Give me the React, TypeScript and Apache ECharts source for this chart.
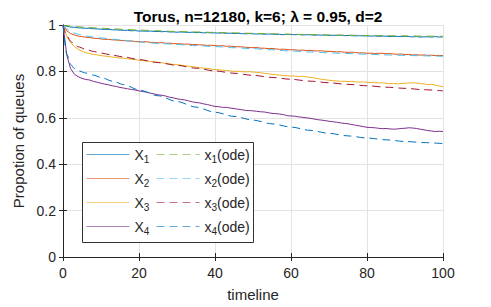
import React, { useEffect, useRef } from "react";
import * as echarts from "echarts";

// ---------- data ----------
const xTicks = [0, 20, 40, 60, 80, 100];
const yTicks = [0, 0.2, 0.4, 0.6, 0.8, 1];

const simT = Array.from({ length: 101 }, (_, i) => i);

const X1 = [
  1.000, 0.994, 0.991, 0.990, 0.988, 0.987, 0.986, 0.986, 0.984, 0.983, 0.982,
  0.981, 0.981, 0.979, 0.979, 0.978, 0.977, 0.977, 0.975, 0.976, 0.974,
  0.974, 0.973, 0.974, 0.972, 0.972, 0.971, 0.972, 0.970, 0.970, 0.969,
  0.970, 0.969, 0.968, 0.969, 0.967, 0.968, 0.966, 0.967, 0.966, 0.966,
  0.965, 0.966, 0.964, 0.965, 0.963, 0.964, 0.963, 0.962, 0.963, 0.962,
  0.961, 0.962, 0.960, 0.961, 0.961, 0.959, 0.960, 0.958, 0.960, 0.959,
  0.958, 0.959, 0.957, 0.958, 0.958, 0.956, 0.957, 0.956, 0.957, 0.955,
  0.956, 0.955, 0.956, 0.954, 0.955, 0.954, 0.953, 0.954, 0.953, 0.953,
  0.952, 0.953, 0.951, 0.952, 0.952, 0.950, 0.951, 0.951, 0.950, 0.951,
  0.950, 0.949, 0.950, 0.948, 0.949, 0.949, 0.948, 0.950, 0.948, 0.949,
];

const X2 = [
  1.000, 0.975, 0.963, 0.957, 0.952, 0.950, 0.947, 0.946, 0.943, 0.942, 0.940,
  0.938, 0.938, 0.936, 0.935, 0.934, 0.933, 0.931, 0.931, 0.929, 0.928,
  0.927, 0.928, 0.925, 0.925, 0.923, 0.924, 0.921, 0.922, 0.920, 0.919,
  0.919, 0.917, 0.918, 0.915, 0.916, 0.914, 0.914, 0.912, 0.913, 0.911,
  0.910, 0.911, 0.908, 0.909, 0.907, 0.906, 0.906, 0.904, 0.903, 0.902,
  0.903, 0.900, 0.900, 0.898, 0.899, 0.897, 0.895, 0.896, 0.894, 0.893,
  0.893, 0.891, 0.892, 0.890, 0.891, 0.889, 0.888, 0.889, 0.887, 0.886,
  0.886, 0.884, 0.885, 0.883, 0.882, 0.883, 0.881, 0.880, 0.880, 0.878,
  0.879, 0.877, 0.878, 0.878, 0.876, 0.877, 0.875, 0.874, 0.875, 0.873,
  0.873, 0.871, 0.872, 0.870, 0.871, 0.869, 0.870, 0.868, 0.869, 0.868,
];

const X3 = [
  1.000, 0.950, 0.925, 0.907, 0.895, 0.887, 0.880, 0.877, 0.873, 0.871, 0.868,
  0.866, 0.864, 0.862, 0.860, 0.857, 0.857, 0.854, 0.852, 0.851, 0.848,
  0.846, 0.845, 0.843, 0.841, 0.839, 0.837, 0.835, 0.833, 0.830, 0.829,
  0.827, 0.825, 0.822, 0.821, 0.818, 0.816, 0.814, 0.813, 0.810, 0.808,
  0.807, 0.805, 0.804, 0.802, 0.800, 0.801, 0.799, 0.798, 0.799, 0.797,
  0.796, 0.794, 0.792, 0.790, 0.787, 0.786, 0.784, 0.782, 0.781, 0.780,
  0.780, 0.778, 0.779, 0.777, 0.774, 0.772, 0.769, 0.766, 0.764, 0.762,
  0.760, 0.759, 0.757, 0.758, 0.756, 0.757, 0.755, 0.754, 0.755, 0.753,
  0.752, 0.753, 0.750, 0.751, 0.749, 0.747, 0.748, 0.746, 0.748, 0.749,
  0.750, 0.751, 0.750, 0.748, 0.746, 0.743, 0.744, 0.741, 0.737, 0.734,
];

const X4 = [
  1.000, 0.870, 0.812, 0.788, 0.777, 0.770, 0.765, 0.763, 0.757, 0.753, 0.749,
  0.745, 0.742, 0.738, 0.735, 0.731, 0.728, 0.725, 0.722, 0.720, 0.716,
  0.713, 0.711, 0.706, 0.703, 0.699, 0.697, 0.694, 0.689, 0.686, 0.682,
  0.679, 0.677, 0.673, 0.669, 0.666, 0.664, 0.660, 0.657, 0.653, 0.649,
  0.648, 0.645, 0.645, 0.642, 0.640, 0.637, 0.635, 0.632, 0.631, 0.630,
  0.628, 0.626, 0.625, 0.622, 0.619, 0.618, 0.616, 0.614, 0.609, 0.608,
  0.607, 0.604, 0.602, 0.600, 0.598, 0.595, 0.592, 0.590, 0.588, 0.585,
  0.583, 0.581, 0.578, 0.576, 0.574, 0.571, 0.568, 0.565, 0.562, 0.559,
  0.558, 0.557, 0.555, 0.553, 0.554, 0.552, 0.551, 0.552, 0.554, 0.555,
  0.557, 0.556, 0.554, 0.551, 0.548, 0.545, 0.543, 0.541, 0.542, 0.541,
];

const odeT = [0, 1, 2, 3, 4, 6, 8, 10, 13, 16, 20, 25, 30, 35, 40, 45, 50, 55, 60, 65, 70, 75, 80, 85, 90, 95, 100];

const ode1 = [
  1, 0.997, 0.995, 0.993, 0.992, 0.990, 0.988, 0.986, 0.984, 0.981, 0.978,
  0.975, 0.972, 0.970, 0.968, 0.966, 0.964, 0.962, 0.960, 0.959, 0.957, 0.956, 0.955, 0.954, 0.953, 0.952, 0.951,
];
const ode2 = [
  1, 0.983, 0.972, 0.965, 0.960, 0.953, 0.948, 0.944, 0.939, 0.934, 0.927,
  0.921, 0.916, 0.911, 0.907, 0.902, 0.898, 0.893, 0.888, 0.884, 0.880, 0.877, 0.874, 0.871, 0.869, 0.867, 0.865,
];
const ode3 = [
  1, 0.955, 0.930, 0.915, 0.906, 0.895, 0.886, 0.879, 0.870, 0.862, 0.851,
  0.838, 0.826, 0.814, 0.802, 0.792, 0.783, 0.774, 0.766, 0.758, 0.751, 0.744, 0.738, 0.732, 0.727, 0.721, 0.716,
];
const ode4 = [
  1, 0.875, 0.830, 0.812, 0.803, 0.793, 0.784, 0.774, 0.758, 0.743, 0.720,
  0.695, 0.670, 0.646, 0.624, 0.606, 0.590, 0.574, 0.560, 0.546, 0.533, 0.522, 0.513, 0.505, 0.498, 0.493, 0.489,
];

const simNames = ["X_1", "X_2", "X_3", "X_4"];
const odeNames = ["x_1(ode)", "x_2(ode)", "x_3(ode)", "x_4(ode)"];
const simColors = ["#0072BD", "#D95319", "#EDB120", "#7E2F8E"];
const odeColors = ["#77AC30", "#4DBEEE", "#A2142F", "#0072BD"];

const FONT = "'Liberation Sans', Arial, Helvetica, sans-serif";
const AX = "#262626";

function pairs(t: number[], v: number[]) {
  return t.map((x, i) => [x, v[i]]);
}

function legendFmt(name: string) {
  const m = name.match(/^([A-Za-z])_(\d)(.*)$/);
  if (!m) return name;
  return `{a|${m[1]}}{s|${m[2]}}` + (m[3] ? `{a|${m[3]}}` : "");
}

export default function App() {
  const ref = useRef<HTMLDivElement>(null);
  useEffect(() => {
    if (!ref.current) return;
    const chart = echarts.init(ref.current, null, { renderer: "svg" });
    const simSeries = [X1, X2, X3, X4];
    const odeSeries = [ode1, ode2, ode3, ode4];
    const series: any[] = [];
    for (let i = 0; i < 4; i++) {
      series.push({
        name: simNames[i],
        type: "line",
        data: pairs(simT, simSeries[i]),
        showSymbol: false,
        symbol: "none",
        lineStyle: { color: simColors[i], width: 1 },
        itemStyle: { color: simColors[i] },
        z: 2,
      });
      series.push({
        name: odeNames[i],
        type: "line",
        data: pairs(odeT, odeSeries[i]),
        showSymbol: false,
        symbol: "none",
        smooth: 0.3,
        smoothMonotone: "x",
        lineStyle: { color: odeColors[i], width: 1, type: [8, 5] },
        itemStyle: { color: odeColors[i] },
        z: 3,
      });
    }
    const rich = {
      a: { fontSize: 14, lineHeight: 20, color: AX, fontFamily: FONT },
      s: { fontSize: 10, lineHeight: 20, color: AX, fontFamily: FONT, padding: [9, 0, 0, 0] },
    };
    const mkLegend = (left: number, data: string[]) => ({
      orient: "vertical",
      left,
      top: 145,
      padding: 0,
      itemWidth: 43,
      itemHeight: 14,
      itemGap: 5,
      formatter: legendFmt,
      itemStyle: { opacity: 0 },
      lineStyle: { opacity: 0.6, width: 1 },
      textStyle: { rich, fontFamily: FONT, fontSize: 14, color: AX },
      z: 10,
      data,
    });
    chart.setOption({
      animation: false,
      backgroundColor: "#ffffff",
      textStyle: { fontFamily: FONT },
      title: {
        text: "Torus, n=12180, k=6; λ = 0.95, d=2",
        left: 253,
        top: 3,
        textAlign: "center",
        textStyle: { fontSize: 15.5, fontWeight: "bold", color: "#000", fontFamily: FONT },
      },
      grid: { left: 63, top: 25, width: 380, height: 235, containLabel: false },
      legend: [mkLegend(86, simNames), mkLegend(156, odeNames)],
      graphic: [
        {
          type: "rect",
          shape: { x: 82.5, y: 142.5, width: 171, height: 100 },
          style: { fill: "#ffffff", stroke: "#333333", lineWidth: 1 },
          z: 5,
          silent: true,
        },
      ],
      xAxis: [
        {
          type: "value",
          min: xTicks[0],
          max: xTicks[xTicks.length - 1],
          interval: xTicks[1] - xTicks[0],
          name: "timeline",
          nameLocation: "middle",
          nameGap: 30,
          nameTextStyle: { fontSize: 15, color: AX, fontFamily: FONT },
          axisLine: { show: true, lineStyle: { color: AX, width: 1 } },
          axisTick: { show: true, inside: true, length: 4, lineStyle: { color: AX } },
          axisLabel: { fontSize: 14, color: AX, margin: 9, fontFamily: FONT },
          splitLine: { show: true, lineStyle: { color: "#e3e3e3", width: 1 } },
        },
        {
          type: "value",
          position: "top",
          min: xTicks[0],
          max: xTicks[xTicks.length - 1],
          interval: xTicks[1] - xTicks[0],
          axisLine: { show: true, lineStyle: { color: AX, width: 1 } },
          axisTick: { show: true, inside: true, length: 4, lineStyle: { color: AX } },
          axisLabel: { show: false },
          splitLine: { show: false },
        },
      ],
      yAxis: [
        {
          type: "value",
          min: yTicks[0],
          max: yTicks[yTicks.length - 1],
          interval: yTicks[1] - yTicks[0],
          name: "Propotion of queues",
          nameLocation: "middle",
          nameGap: 25,
          nameTextStyle: { fontSize: 15, color: AX, fontFamily: FONT },
          axisLine: { show: true, lineStyle: { color: AX, width: 1 } },
          axisTick: { show: true, inside: true, length: 4, lineStyle: { color: AX } },
          axisLabel: { fontSize: 14, color: AX, margin: 7, fontFamily: FONT },
          splitLine: { show: true, lineStyle: { color: "#e3e3e3", width: 1 } },
        },
        {
          type: "value",
          position: "right",
          min: yTicks[0],
          max: yTicks[yTicks.length - 1],
          interval: yTicks[1] - yTicks[0],
          axisLine: { show: true, lineStyle: { color: AX, width: 1 } },
          axisTick: { show: true, inside: true, length: 4, lineStyle: { color: AX } },
          axisLabel: { show: false },
          splitLine: { show: false },
        },
      ],
      series,
    });
    return () => chart.dispose();
  }, []);
  return (
    <div
      ref={ref}
      style={{ position: "absolute", left: 0, top: 0, width: 491, height: 307 }}
    />
  );
}
